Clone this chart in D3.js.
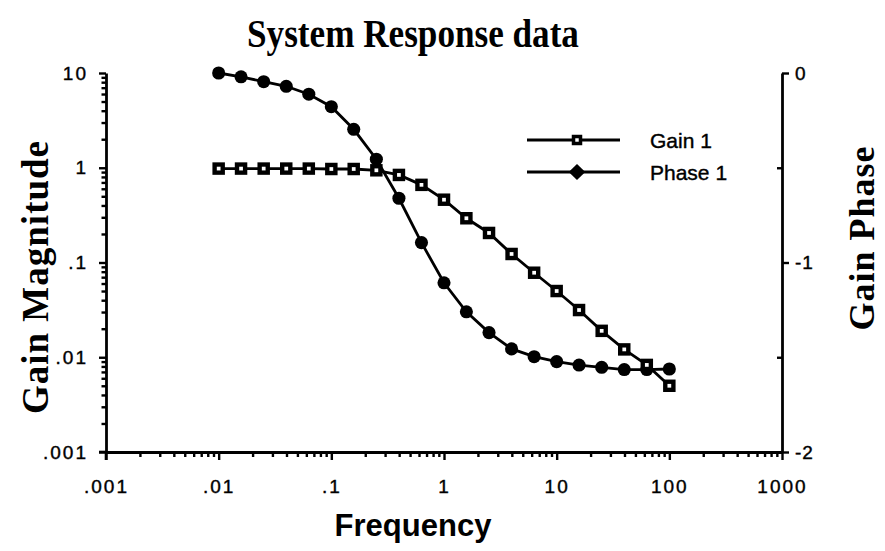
<!DOCTYPE html>
<html><head><meta charset="utf-8">
<script src="https://cdn.jsdelivr.net/npm/d3@7/dist/d3.min.js"></script>
<style>
html,body{margin:0;padding:0;background:#fff;}
svg{display:block;}
</style></head>
<body>
<svg id="c" width="885" height="551"></svg>
<script>
const title = "System Response data";
const xLabel = "Frequency";
const yLeftLabel = "Gain  Magnitude";
const yRightLabel = "Gain  Phase";
const seriesNames = ["Gain 1", "Phase 1"];
const frequency = [0.01, 0.0158, 0.0251, 0.0398, 0.0631, 0.1, 0.158, 0.251, 0.398, 0.631, 1, 1.58, 2.51, 3.98, 6.31, 10, 15.8, 25.1, 39.8, 63.1, 100];
const gain = [0.98, 0.98, 0.98, 0.98, 0.98, 0.97, 0.97, 0.94, 0.84, 0.66, 0.46, 0.293, 0.205, 0.123, 0.078, 0.050, 0.0315, 0.019, 0.0121, 0.0083, 0.0050];
const phase = [0, -0.02, -0.046, -0.07, -0.112, -0.178, -0.297, -0.455, -0.661, -0.895, -1.107, -1.26, -1.37, -1.456, -1.497, -1.523, -1.541, -1.553, -1.565, -1.565, -1.562];
const xTicks = [0.001, 0.01, 0.1, 1, 10, 100, 1000];
const xTickLabels = [".001", ".01", ".1", "1", "10", "100", "1000"];
const yLeftTicks = [0.001, 0.01, 0.1, 1, 10];
const yLeftTickLabels = [".001", ".01", ".1", "1", "10"];
const yRightTicks = [-2, -1, 0];
const yRightTickLabels = ["-2", "-1", "0"];
const yRightMinor = [-1.5, -0.5];

const svg = d3.select("#c");
const L = 106, R = 782, T = 73, B = 452;
const x = d3.scaleLog().domain([0.001, 1000]).range([L, R]);
const yL = d3.scaleLog().domain([0.001, 10]).range([B, T]);
const yR = d3.scaleLinear().domain([-2, 0]).range([B, T]);

function minorLog(lo, hi) {
  const out = [];
  for (let e = Math.log10(lo); e < Math.log10(hi); e++) {
    for (let m = 2; m <= 9; m++) out.push(m * Math.pow(10, e));
  }
  return out;
}
const sans = "'Liberation Sans', Arial, sans-serif";
const serif = "'Liberation Serif', 'Times New Roman', serif";

function styleAxis(g) {
  g.select(".domain").attr("stroke", "#000").attr("stroke-width", 2.8);
  g.selectAll(".tick line").attr("stroke", "#000").attr("stroke-width", 2.4);
  g.selectAll(".tick text").attr("fill", "#000").attr("stroke", "#000").attr("stroke-width", 0.4)
    .style("font-family", sans).style("font-size", "19px").style("letter-spacing", "2px");
}

// bottom axis
const gx = svg.append("g").attr("transform", `translate(0,${B})`)
  .call(d3.axisBottom(x).tickValues(xTicks).tickSize(8).tickSizeOuter(0).tickPadding(20)
    .tickFormat((d, i) => xTickLabels[i]));
styleAxis(gx);
svg.append("g").attr("transform", `translate(0,${B})`)
  .call(d3.axisBottom(x).tickValues(minorLog(0.001, 1000)).tickSize(5).tickSizeOuter(0).tickFormat(""))
  .call(g => { styleAxis(g); g.select(".domain").remove(); });

// left axis
const gy = svg.append("g").attr("transform", `translate(${L},0)`)
  .call(d3.axisLeft(yL).tickValues(yLeftTicks).tickSize(7).tickSizeOuter(0).tickPadding(11)
    .tickFormat((d, i) => yLeftTickLabels[i]));
styleAxis(gy);
svg.append("g").attr("transform", `translate(${L},0)`)
  .call(d3.axisLeft(yL).tickValues(minorLog(0.001, 10)).tickSize(4.5).tickSizeOuter(0).tickFormat(""))
  .call(g => { styleAxis(g); g.select(".domain").remove(); });

// right axis
const gr = svg.append("g").attr("transform", `translate(${R},0)`)
  .call(d3.axisRight(yR).tickValues(yRightTicks).tickSize(7).tickSizeOuter(0).tickPadding(6)
    .tickFormat((d, i) => yRightTickLabels[i]));
styleAxis(gr);
gr.selectAll(".tick text").style("letter-spacing", "1px");
svg.append("g").attr("transform", `translate(${R},0)`)
  .call(d3.axisLeft(yR).tickValues(yRightMinor).tickSize(5).tickSizeOuter(0).tickFormat(""))
  .call(g => { styleAxis(g); g.select(".domain").remove(); });

// crossing extensions at origin
svg.append("line").attr("x1", L).attr("x2", L).attr("y1", B).attr("y2", B + 8).attr("stroke", "#000").attr("stroke-width", 2.6);
svg.append("line").attr("x1", L - 7).attr("x2", L).attr("y1", B).attr("y2", B).attr("stroke", "#000").attr("stroke-width", 2.6);

const data = frequency.map((f, i) => ({ f, g: gain[i], p: phase[i] }));

const lineG = d3.line().x(d => x(d.f)).y(d => yL(d.g));
const lineP = d3.line().x(d => x(d.f)).y(d => yR(d.p));

svg.append("path").datum(data).attr("d", lineP).attr("fill", "none").attr("stroke", "#000").attr("stroke-width", 2.8);
svg.append("path").datum(data).attr("d", lineG).attr("fill", "none").attr("stroke", "#000").attr("stroke-width", 2.8);

const sqOuter = d3.symbol(d3.symbolSquare, 156)();
const sqInner = d3.symbol(d3.symbolSquare, 14)();
const dot = d3.symbol(d3.symbolCircle, 135)();

svg.append("g").selectAll("path").data(data).join("path")
  .attr("transform", d => `translate(${x(d.f)},${yR(d.p)})`).attr("d", dot).attr("fill", "#000");
const gm = svg.append("g").selectAll("g").data(data).join("g")
  .attr("transform", d => `translate(${x(d.f)},${yL(d.g)})`);
gm.append("path").attr("d", sqOuter).attr("fill", "#000");
gm.append("path").attr("d", sqInner).attr("fill", "#fff");

// legend
const lg = svg.append("g");
[140, 172].forEach((ly, i) => {
  lg.append("line").attr("x1", 527).attr("x2", 620).attr("y1", ly).attr("y2", ly).attr("stroke", "#000").attr("stroke-width", 2.8);
  if (i === 0) {
    lg.append("path").attr("transform", `translate(577,${ly})`).attr("d", d3.symbol(d3.symbolSquare, 110)()).attr("fill", "#000");
    lg.append("path").attr("transform", `translate(577,${ly})`).attr("d", d3.symbol(d3.symbolSquare, 12)()).attr("fill", "#fff");
  } else {
    lg.append("path").attr("transform", `translate(577,${ly}) scale(1.35,0.75)`).attr("d", d3.symbol(d3.symbolDiamond, 130)()).attr("fill", "#000");
  }
  lg.append("text").attr("x", 650).attr("y", ly + 8).text(seriesNames[i])
    .style("font-family", sans).style("font-size", "21px").attr("fill", "#000")
    .attr("stroke", "#000").attr("stroke-width", 0.4);
});

// titles
svg.append("text").attr("x", 413).attr("y", 47).attr("text-anchor", "middle").text(title)
  .attr("transform", "translate(413,47) scale(0.95,1.1) translate(-413,-47)")
  .style("font-family", serif).style("font-weight", "bold").style("font-size", "37px");
svg.append("text").attr("x", 413).attr("y", 536).attr("text-anchor", "middle").text(xLabel)
  .style("font-family", sans).style("font-weight", "bold").style("font-size", "31px");
svg.append("text").attr("transform", "translate(48,277) rotate(-90)").attr("text-anchor", "middle").text(yLeftLabel)
  .style("font-family", serif).style("font-weight", "bold").style("font-size", "37px").style("letter-spacing", "1px");
svg.append("text").attr("transform", "translate(874,238) rotate(-90)").attr("text-anchor", "middle").text(yRightLabel)
  .style("font-family", serif).style("font-weight", "bold").style("font-size", "36px").style("letter-spacing", "1px");
</script>
</body></html>
